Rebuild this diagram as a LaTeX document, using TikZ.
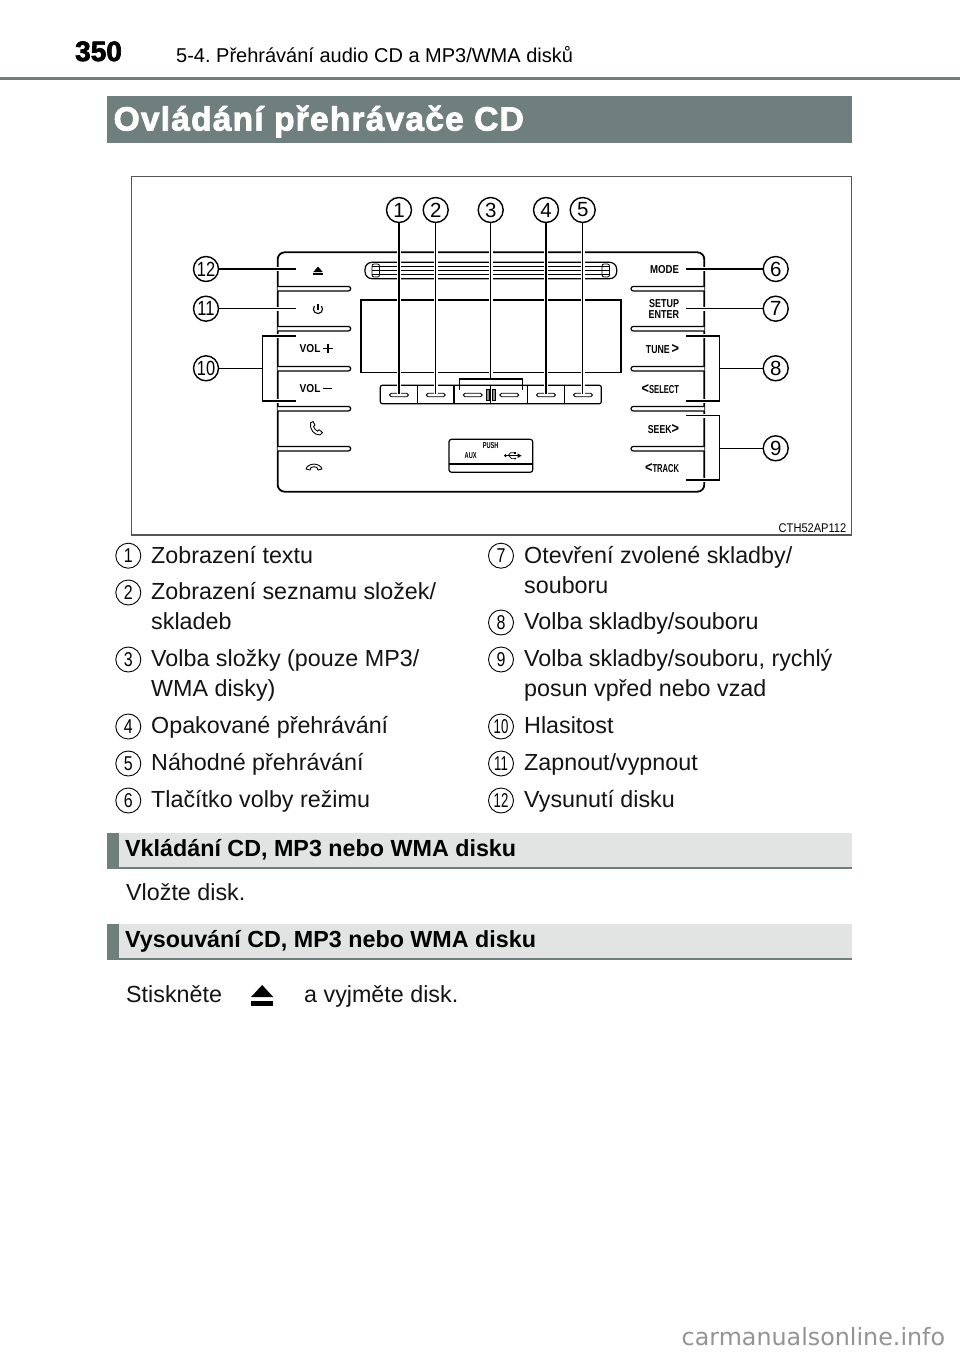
\documentclass[tikz,border=0pt]{standalone}
\usepackage{fontspec}
\usepackage{graphicx}
\setmainfont{Liberation Sans}
\newfontfamily\heavy[BoldFeatures={FakeBold=2.4}]{Liberation Sans}
\newfontfamily\wm{DejaVu Sans}
\definecolor{band}{HTML}{6F7F7D}
\definecolor{lightband}{HTML}{E1E4E2}
\definecolor{framec}{HTML}{555555}
\newcommand{\nar}[1]{\scalebox{0.8}[1]{#1}}
\newcommand{\labn}[1]{\scalebox{0.66}[1]{#1}}
\newcommand{\chev}[1]{{\fontsize{15}{15}\selectfont\bfseries\scalebox{.85}[1]{#1}}}
\tikzset{
  x=1pt,y=-1pt,
  panelline/.style={draw=black,line width=1.8},
  thinline/.style={draw=black,line width=1.2},
  leader/.style={draw=black,line width=1.4,preaction={draw=white,line width=3.8,shorten <=2pt}},
  callout/.style={circle,draw=black,fill=white,line width=1.4,minimum size=25,inner sep=0,font=\fontsize{20.5}{21}\selectfont},
  listno/.style={circle,draw=black,fill=white,line width=0.9,minimum size=25,inner sep=0,font=\fontsize{20}{20}\selectfont},
  body/.style={anchor=base west,inner sep=0,font=\fontsize{23.3}{28}\selectfont,text=black!92},
  lab/.style={anchor=base east,inner sep=0,font=\fontsize{11.5}{12}\selectfont\bfseries},
  subhead/.style={anchor=base west,inner sep=0,font=\fontsize{23.3}{28}\selectfont\bfseries},
}
\frenchspacing
\begin{document}
\begin{tikzpicture}
\useasboundingbox (0,0) rectangle (960,1354);
\fill[white] (0,0) rectangle (960,1354);

% header
\node[anchor=base west,inner sep=0,font=\fontsize{28}{30}\selectfont\heavy\bfseries] (pageno) at (75,61) {350};
\node[anchor=base west,inner sep=0,font=\fontsize{20}{24}\selectfont] (chapter) at (176,63) {5-4. Přehrávání audio CD a MP3/WMA disků};
\fill[band] (0,76.5) rectangle (960,80);
\fill[band] (106.5,96) rectangle (852,143);
\node[anchor=base west,inner sep=0,text=white,font=\fontsize{33.5}{36}\selectfont\heavy\bfseries] (title) at (113.5,130.5) {\addfontfeatures{LetterSpace=3.6}Ovládání přehrávače CD};

% frame
\draw[framec,line width=1.3] (131.7,176.5) rectangle (851.7,535);
\node[anchor=base east,inner sep=0,font=\fontsize{12.6}{14}\selectfont] (code) at (846.5,532) {\scalebox{.88}[1]{CTH52AP112}};

% panel
\draw[panelline,rounded corners=7] (277.7,252.3) rectangle (704.3,491.7);
\foreach \yy in {288.7,328.7,368.7,408.7,448.7}{
  \draw[thinline,fill=white,rounded corners=2.2] (277.7,\yy-2.2) -- (350.7,\yy-2.2) -- (350.7,\yy+2.2) -- (277.7,\yy+2.2);
  \draw[thinline,fill=white,rounded corners=2.2] (704.3,\yy-2.2) -- (631,\yy-2.2) -- (631,\yy+2.2) -- (704.3,\yy+2.2);
}
% disc slot
\draw[thinline,rounded corners=7] (365,262.3) rectangle (616.7,278.7);
\foreach \yy in {266.3,270.5,274.7}{\draw[draw=black,line width=.9] (372,\yy) -- (610,\yy);}
\draw[draw=black,line width=.8,rounded corners=2] (379.5,264) -- (372,264) -- (372,277) -- (379.5,277) -- cycle;
\draw[draw=black,line width=.8,rounded corners=2] (602,264) -- (609.5,264) -- (609.5,277) -- (602,277) -- cycle;
% display
\draw[thinline] (361,300) rectangle (621,372.3);
% buttons row
\draw[thinline,rounded corners=2] (380.3,385.3) rectangle (601.3,403.7);
\foreach \xx in {417.3,454,490.7,527.3,564.3}{\draw[thinline] (\xx,385.3) -- (\xx,403.7);}
\foreach \xx in {399,435.7,472.7,509.3,546,583}{\draw[draw=black,line width=.8,fill=white,rounded corners=1.8] (\xx-9.5,393.2) rectangle (\xx+9.5,396.8);}
\draw[draw=black,fill=black!45,line width=.6] (486.5,389) rectangle (488.9,400.3);
\draw[draw=black,fill=black!45,line width=.6] (492.6,389) rectangle (495,400.3);
% usb box
\draw[thinline,rounded corners=2.5] (449,439.3) rectangle (532.7,472.3);
\draw[thinline] (449,464) -- (532.7,464);
\node[inner sep=0,font=\fontsize{8.6}{9}\selectfont\bfseries] (push) at (490.7,446) {\labn{PUSH}};
\node[inner sep=0,font=\fontsize{8.6}{9}\selectfont\bfseries] (aux) at (470.7,455.7) {\labn{AUX}};
\fill (505.5,455.7) circle (1.5);
\draw[line width=.9] (505.5,455.7) -- (518,455.7);
\fill (517.5,453.4) -- (521.5,455.7) -- (517.5,458) -- cycle;
\draw[line width=.7] (508,455.7) -- (510.5,452.8) -- (514,452.8);
\fill (514,451.8) rectangle (516,453.8);
\draw[line width=.7] (509,455.7) -- (511.5,458.6) -- (514,458.6);
\fill (515,458.6) circle (1.1);

% left icons and labels
\fill (313.3,272) -- (318,266.5) -- (322.7,272) -- cycle;
\fill (313.3,273.3) rectangle (322.7,275);
\draw[line width=1.1] (314.4,306) arc[start angle=220,end angle=-40,radius=4.6];
\draw[line width=1.1] (318,303.5) -- (318,309.6);
\node[anchor=base west,inner sep=0,font=\fontsize{11.5}{12}\selectfont\bfseries] (volp) at (299.5,352.7) {\scalebox{.88}[1]{VOL}};
\draw[line width=1.3] (323.2,348.3) -- (332.8,348.3) (328,343.5) -- (328,353.1);
\node[anchor=base west,inner sep=0,font=\fontsize{11.5}{12}\selectfont\bfseries] (volm) at (299.5,392.7) {\scalebox{.88}[1]{VOL}};
\draw[line width=1.3] (323.2,388.3) -- (332.4,388.3);
\draw[line width=.9,fill=white,line join=round] (310.5,423) -- (313,421.5) -- (315,425) -- (313.5,426.5) .. controls (314.5,429) and (315.5,430) .. (317.5,431.2) -- (319,429.7) -- (322.5,432.5) -- (320,435) .. controls (314,435) and (309.5,429.5) .. cycle;
\draw[line width=.9,fill=white,line join=round] (306,469) .. controls (308,462.5) and (320,462.5) .. (322,469) -- (318,470) -- (317,467.5) .. controls (315,466.5) and (313,466.5) .. (311,467.5) -- (310,470) -- cycle;

% right labels
\node[lab] (lmode) at (679.3,273.2) {\scalebox{.84}[1]{MODE}};
\node[lab] (lsetup) at (679.3,307.5) {\scalebox{.78}[1]{SETUP}};
\node[lab] (lenter) at (679.3,318.5) {\scalebox{.78}[1]{ENTER}};
\node[lab] (ltune) at (679.3,353.6) {\scalebox{.76}[1]{TUNE}\,\chev{>}};
\node[lab] (lselect) at (679.3,393.6) {\chev{<}\labn{SELECT}};
\node[lab] (lseek) at (679.3,433.6) {\scalebox{.76}[1]{SEEK}\chev{>}};
\node[lab] (ltrack) at (679.3,472.9) {\chev{<}\labn{TRACK}};

% callouts
\node[callout] (c1) at (399,210) {1};
\node[callout] (c2) at (435.7,210) {2};
\node[callout] (c3) at (490.7,210) {3};
\node[callout] (c4) at (546,210) {4};
\node[callout] (c5) at (582.7,210) {5};
\node[callout] (c6) at (775.7,269) {6};
\node[callout] (c7) at (775.7,308.7) {7};
\node[callout] (c8) at (775.7,368.3) {8};
\node[callout] (c9) at (775.7,448.3) {9};
\node[callout] (c10) at (206,368.3) {\nar{10}};
\node[callout] (c11) at (206,308.7) {\nar{11}};
\node[callout] (c12) at (206,269) {\nar{12}};

\coordinate (t1) at (399,394);
\coordinate (t2) at (435.7,394);
\coordinate (t3) at (490.7,379);
\coordinate (t4) at (546,394);
\coordinate (t5) at (582.7,394);
\coordinate (t6) at (686,269);
\coordinate (t7) at (686,308.7);
\coordinate (t12) at (296,269);
\coordinate (t11) at (296,308.7);
\draw[leader] (c1) -- (t1);
\draw[leader] (c2) -- (t2);
\draw[leader] (c3) -- (t3);
\draw[leader] (c4) -- (t4);
\draw[leader] (c5) -- (t5);
\draw[leader] (c6) -- (t6);
\draw[leader] (c7) -- (t7);
\draw[leader] (c11) -- (t11);
\draw[leader] (c12) -- (t12);
% bracket of 3
\coordinate (b3a) at (459.3,390);
\coordinate (b3b) at (522.3,390);
\draw[draw=black,line width=1.3] (b3a) |- (t3) -| (b3b);
% bracket of 10
\coordinate (b10a) at (296,336);
\coordinate (b10b) at (296,401);
\coordinate (b10c) at (262.3,368.3);
\draw[leader] (b10a) -- (262.3,336) -- (262.3,401) -- (b10b);
\draw[leader] (c10) -- (b10c);
% bracket of 8
\coordinate (b8a) at (686,336);
\coordinate (b8b) at (686,401);
\coordinate (b8c) at (719.7,368.3);
\draw[leader] (b8a) -- (719.7,336) -- (719.7,401) -- (b8b);
\draw[leader] (c8) -- (b8c);
% bracket of 9
\coordinate (b9a) at (686,415.7);
\coordinate (b9b) at (686,480);
\coordinate (b9c) at (719.7,448.3);
\draw[leader] (b9a) -- (719.7,415.7) -- (719.7,480) -- (b9b);
\draw[leader] (c9) -- (b9c);

% list left
\node[listno] (n1) at (128.3,555.7) {\nar{1}};
\node[listno] (n2) at (128.3,592.5) {\nar{2}};
\node[listno] (n3) at (128.3,659.5) {\nar{3}};
\node[listno] (n4) at (128.3,726.5) {\nar{4}};
\node[listno] (n5) at (128.3,763.5) {\nar{5}};
\node[listno] (n6) at (128.3,800.5) {\nar{6}};
\node[body] (x1) at (151,563) {Zobrazení textu};
\node[body] (x2a) at (151,599.8) {Zobrazení seznamu složek/};
\node[body] (x2b) at (151,629.8) {skladeb};
\node[body] (x3a) at (151,666.8) {Volba složky (pouze MP3/};
\node[body] (x3b) at (151,696.8) {WMA disky)};
\node[body] (x4) at (151,733.8) {Opakované přehrávání};
\node[body] (x5) at (151,770.8) {Náhodné přehrávání};
\node[body] (x6) at (151,807.8) {Tlačítko volby režimu};
% list right
\node[listno] (n7) at (501,555.7) {\nar{7}};
\node[listno] (n8) at (501,622.5) {\nar{8}};
\node[listno] (n9) at (501,659.5) {\nar{9}};
\node[listno] (n10) at (501,726.5) {\scalebox{.66}[1]{10}};
\node[listno] (n11) at (501,763.5) {\scalebox{.66}[1]{11}};
\node[listno] (n12) at (501,800.5) {\scalebox{.66}[1]{12}};
\node[body] (x7a) at (524,563) {Otevření zvolené skladby/};
\node[body] (x7b) at (524,593) {souboru};
\node[body] (x8) at (524,629.8) {Volba skladby/souboru};
\node[body] (x9a) at (524,666.8) {Volba skladby/souboru, rychlý};
\node[body] (x9b) at (524,696.8) {posun vpřed nebo vzad};
\node[body] (x10) at (524,733.8) {Hlasitost};
\node[body] (x11) at (524,770.8) {Zapnout/vypnout};
\node[body] (x12) at (524,807.8) {Vysunutí disku};

% sub sections
\fill[lightband] (106.5,833.3) rectangle (852,869);
\fill[band] (106.5,833.3) rectangle (119,869);
\fill[band] (106.5,867) rectangle (852,869);
\node[subhead] (s1) at (125,856.2) {Vkládání CD, MP3 nebo WMA disku};
\node[body] (b1) at (126,900) {Vložte disk.};
\fill[lightband] (106.5,924.3) rectangle (852,960);
\fill[band] (106.5,924.3) rectangle (119,960);
\fill[band] (106.5,958) rectangle (852,960);
\node[subhead] (s2) at (125,947.2) {Vysouvání CD, MP3 nebo WMA disku};
\node[body] (b2) at (126,1002) {Stiskněte};
\fill (251,997) -- (262.2,985) -- (273.3,997) -- cycle;
\fill (251,1000.7) rectangle (273.3,1006);
\node[body] (b3) at (304,1002) {a vyjměte disk.};

% watermark
\node[anchor=base west,inner sep=0,text=black!42,font=\wm\fontsize{23.8}{28}\selectfont] (wmark) at (681.5,1345) {carmanualsonline.info};
\end{tikzpicture}
\end{document}
